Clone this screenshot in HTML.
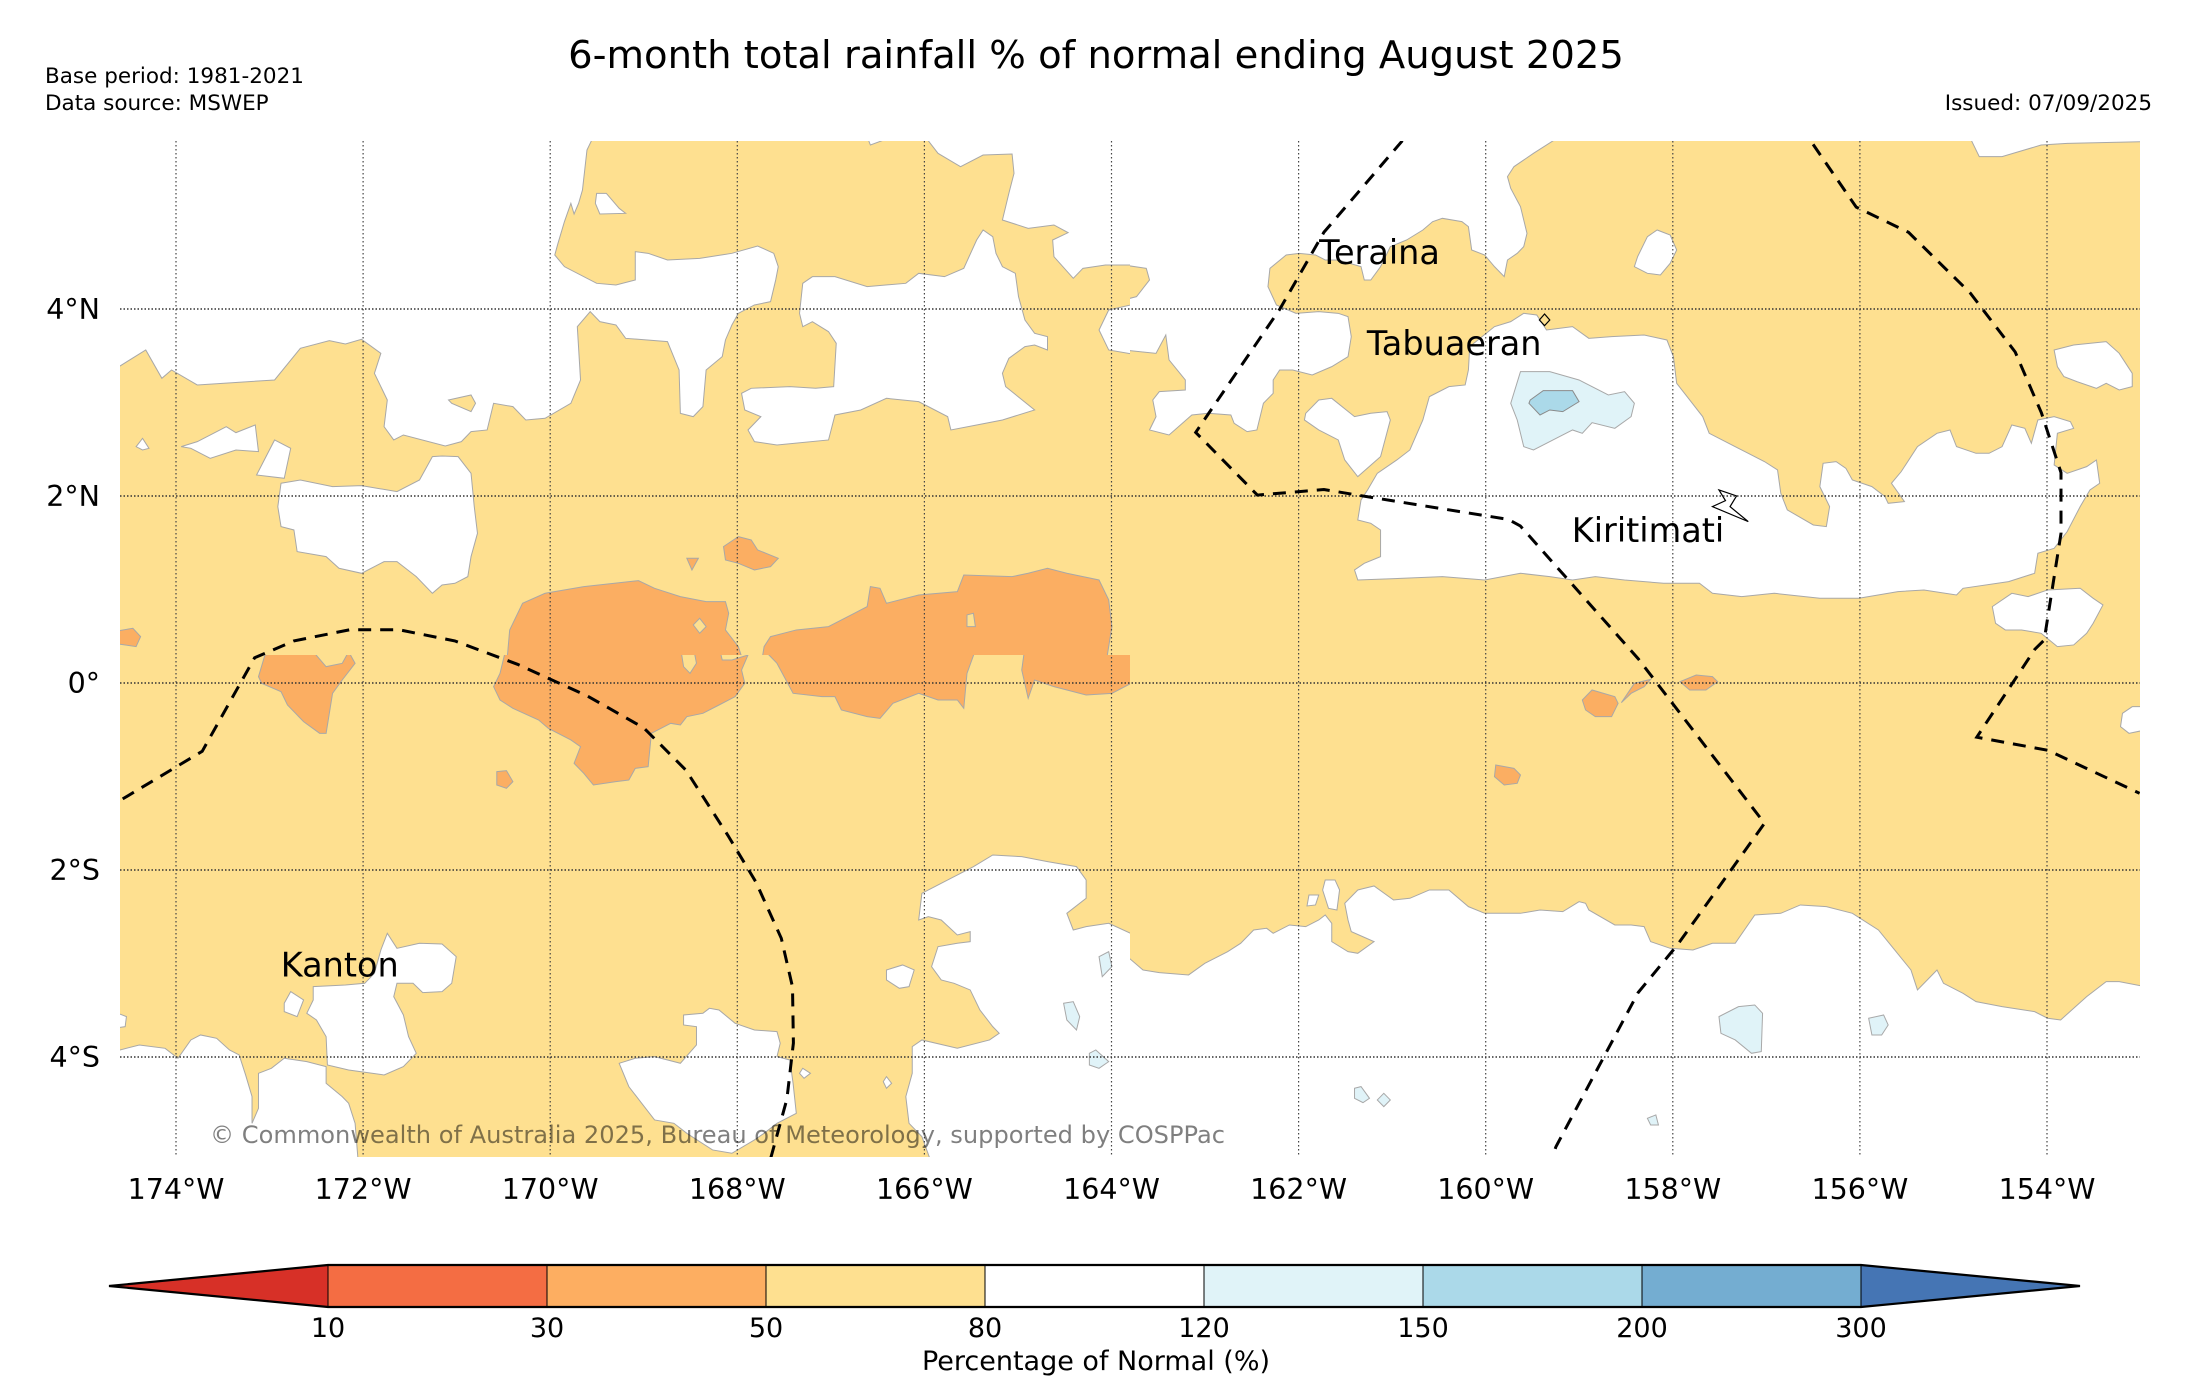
<!DOCTYPE html>
<html><head><meta charset="utf-8"><title>6-month rainfall % of normal</title>
<style>
html,body{margin:0;padding:0;background:#fff;}
svg{display:block;font-family:"DejaVu Sans","Liberation Sans",sans-serif;}
.w{fill:#ffffff;stroke:#a8a8a8;stroke-width:1;}
.y{fill:#fee090;stroke:#a8a8a8;stroke-width:1;}
.o{fill:#fbae62;stroke:#a8a8a8;stroke-width:1;}
.b1{fill:#e0f3f8;stroke:#a8a8a8;stroke-width:1;}
.b2{fill:#abd9e9;stroke:#8a8a8a;stroke-width:1;}
</style></head>
<body>
<svg id="chart" width="2185" height="1380" viewBox="0 0 2185 1380" xmlns="http://www.w3.org/2000/svg">
<defs>
<clipPath id="clipMap"><rect x="120" y="141" width="2020" height="1016"/></clipPath>
<clipPath id="clipA"><rect x="120" y="141" width="1010" height="514"/></clipPath>
<clipPath id="clipB"><rect x="1130" y="141" width="1010" height="514"/></clipPath>
<clipPath id="clipC"><rect x="120" y="655" width="1010" height="502"/></clipPath>
<clipPath id="clipD"><rect x="1130" y="655" width="1010" height="502"/></clipPath>
</defs>

<text x="1096" y="68" font-size="38.5" text-anchor="middle" fill="#000">6-month total rainfall % of normal ending August 2025</text>
<text x="45" y="83" font-size="21.5" fill="#000">Base period: 1981-2021</text>
<text x="45" y="110" font-size="21.5" fill="#000">Data source: MSWEP</text>
<text x="2152" y="110" font-size="21.5" text-anchor="end" fill="#000">Issued: 07/09/2025</text>

<g clip-path="url(#clipMap)">
<rect x="120" y="141" width="2020" height="1016" fill="#fee090"/>

<g clip-path="url(#clipA)">
<g transform="translate(120,140) scale(0.6441,0.3333)">
<polygon class="w" vector-effect="non-scaling-stroke" points="-10,-10 735,-10 725,30 718,150 712,190 705,222 700,190 690,245 680,310 675,345 690,380 740,430 770,435 800,420 800,335 820,340 850,360 900,355 950,340 990,318 1015,340 1022,380 1018,420 1010,485 985,495 960,520 950,555 940,600 935,650 910,690 905,800 890,830 870,820 868,690 850,605 785,595 770,555 745,545 730,515 710,560 715,720 700,790 660,835 630,840 610,800 580,790 570,870 545,875 530,905 505,918 440,885 425,900 410,860 415,780 395,700 405,640 375,598 350,612 325,602 280,625 240,720 120,735 80,690 65,715 40,630 -10,690"/>
<polygon class="w" vector-effect="non-scaling-stroke" points="740,160 755,160 775,205 785,220 745,222 738,190"/>
<polygon class="y" vector-effect="non-scaling-stroke" points="510,780 545,765 552,790 545,815 515,790"/>
<polygon class="w" vector-effect="non-scaling-stroke" points="1060,430 1075,410 1110,410 1160,440 1220,430 1240,400 1280,410 1310,385 1330,300 1340,270 1355,290 1360,340 1370,380 1390,400 1395,470 1405,540 1420,580 1440,590 1440,630 1420,615 1405,620 1380,655 1370,700 1375,740 1420,810 1370,840 1330,855 1290,870 1285,830 1240,785 1190,775 1150,810 1110,825 1100,900 1020,915 985,905 975,870 995,830 970,810 965,760 980,745 1040,740 1080,745 1108,740 1112,610 1100,575 1075,545 1060,560 1055,520"/>
<polygon class="w" vector-effect="non-scaling-stroke" points="1160,-10 1165,15 1200,-10 1250,-10 1270,40 1305,80 1340,45 1385,42 1388,100 1380,160 1370,240 1410,265 1450,255 1472,278 1448,300 1450,350 1480,415 1495,385 1530,375 1580,375 1580,-10"/>
<polygon class="w" vector-effect="non-scaling-stroke" points="1580,490 1535,510 1520,570 1535,630 1580,645"/>
<polygon class="w" vector-effect="non-scaling-stroke" points="95,920 120,905 165,860 180,878 210,855 215,935 180,930 140,955 110,925"/>
<polygon class="w" vector-effect="non-scaling-stroke" points="212,1005 240,900 265,925 255,1015"/>
<polygon class="w" vector-effect="non-scaling-stroke" points="25,920 35,895 45,925 35,930"/>
<polygon class="w" vector-effect="non-scaling-stroke" points="250,1030 280,1020 330,1040 375,1037 430,1055 465,1020 485,950 500,948 525,950 545,1000 550,1100 555,1180 545,1250 540,1310 520,1330 500,1335 485,1360 460,1310 430,1265 410,1265 375,1300 340,1285 320,1250 275,1235 270,1170 250,1160 245,1100"/>
<polygon class="o" vector-effect="non-scaling-stroke" points="660,1360 720,1340 805,1322 830,1345 870,1370 910,1385 940,1385 945,1420 940,1470 960,1520 970,1580 600,1580 605,1470 625,1390"/>
<polygon class="y" vector-effect="non-scaling-stroke" points="900,1435 910,1460 900,1480 890,1455"/>
<polygon class="o" vector-effect="non-scaling-stroke" points="1010,1490 1050,1470 1100,1460 1140,1420 1160,1400 1165,1340 1180,1345 1190,1390 1240,1365 1300,1355 1310,1305 1385,1310 1410,1300 1440,1285 1470,1300 1520,1320 1535,1380 1540,1460 1530,1580 995,1580 1000,1520"/>
<polygon class="y" vector-effect="non-scaling-stroke" points="1315,1425 1325,1420 1328,1460 1315,1460"/>
<polygon class="o" vector-effect="non-scaling-stroke" points="960,1190 980,1200 990,1230 1022,1255 1010,1280 985,1290 960,1270 940,1260 937,1220"/>
<polygon class="o" vector-effect="non-scaling-stroke" points="880,1255 898,1255 888,1290"/>
<polygon class="o" vector-effect="non-scaling-stroke" points="-10,1475 20,1465 32,1490 25,1520 -10,1510"/>
</g></g>

<g clip-path="url(#clipB)">
<g transform="translate(1130,140) scale(0.6508,0.3333)">
<polygon class="w" vector-effect="non-scaling-stroke" points="-10,-10 660,-10 620,40 590,80 580,110 585,145 600,200 610,280 605,320 595,340 580,360 575,410 560,380 545,345 525,330 520,260 510,245 480,235 465,245 450,270 425,300 400,320 385,380 370,420 360,420 355,380 320,360 300,360 285,345 260,340 240,345 215,385 212,440 225,495 255,520 290,515 320,520 335,530 340,590 335,650 310,680 280,705 250,690 230,690 220,720 220,760 205,790 195,870 180,875 160,850 155,825 120,820 95,825 60,885 30,870 40,830 35,780 45,755 85,750 85,720 60,660 55,585 40,640 -10,630"/>
<polygon class="y" vector-effect="non-scaling-stroke" points="-10,375 25,385 30,420 10,470 -10,480"/>
<polygon class="w" vector-effect="non-scaling-stroke" points="270,820 290,780 310,775 345,830 370,820 395,815 400,840 385,950 350,1010 330,960 320,900 290,870 268,840"/>
<polygon class="w" vector-effect="non-scaling-stroke" points="365,1050 380,1000 410,960 430,930 450,840 460,770 490,740 515,735 520,690 522,620 560,560 585,545 605,520 625,525 640,570 680,560 705,595 740,590 790,585 825,600 835,650 840,730 860,780 880,830 890,880 930,920 950,940 975,965 995,990 1000,1060 1010,1110 1050,1155 1070,1160 1075,1100 1060,1040 1065,970 1085,965 1100,985 1110,1020 1140,1040 1160,1070 1165,1090 1190,1085 1170,1030 1185,995 1210,920 1240,880 1260,870 1270,920 1300,940 1320,940 1340,920 1355,855 1375,865 1385,910 1395,840 1420,830 1445,845 1450,865 1425,880 1420,975 1440,1000 1470,980 1485,960 1490,1030 1475,1050 1460,1100 1440,1175 1420,1225 1395,1240 1390,1300 1350,1325 1280,1345 1270,1365 1220,1350 1180,1355 1120,1375 1060,1375 990,1360 940,1370 895,1360 875,1330 820,1330 760,1320 715,1310 680,1320 645,1310 600,1300 545,1320 480,1310 420,1315 350,1320 345,1290 360,1270 385,1250 385,1170 370,1150 350,1140 355,1080"/>
<polygon class="b1" vector-effect="non-scaling-stroke" points="600,695 645,695 690,720 735,765 760,755 775,790 770,830 745,865 710,848 695,880 680,870 650,900 620,930 605,920 595,840 585,790"/>
<polygon class="b2" vector-effect="non-scaling-stroke" points="615,780 635,752 680,752 690,785 665,815 645,810 630,825 613,790"/>
<polygon class="w" vector-effect="non-scaling-stroke" points="1290,-10 1305,50 1340,50 1400,15 1440,10 1560,5 1560,-10"/>
<polygon class="w" vector-effect="non-scaling-stroke" points="780,350 795,290 810,270 830,285 840,330 830,370 815,405 795,400 775,380"/>
<polygon class="w" vector-effect="non-scaling-stroke" points="1420,630 1450,615 1500,605 1520,640 1540,700 1540,740 1520,750 1500,730 1485,745 1455,725 1435,710 1425,680"/>
<polygon class="w" vector-effect="non-scaling-stroke" points="1325,1400 1355,1360 1380,1370 1410,1350 1460,1345 1480,1375 1495,1395 1480,1450 1470,1480 1450,1515 1425,1520 1400,1480 1370,1470 1345,1470 1330,1450"/>
<polygon fill="none" stroke="#000" stroke-width="1.2" vector-effect="non-scaling-stroke" points="637,522 645,540 637,557 629,540"/>
<polygon fill="#fff" stroke="#000" stroke-width="1.2" vector-effect="non-scaling-stroke" points="905,1050 932,1068 922,1100 950,1145 895,1100 915,1082"/>
</g></g>

<g clip-path="url(#clipC)">
<g transform="translate(120,650) scale(0.6441,0.3333)">
<polygon class="o" vector-effect="non-scaling-stroke" points="600,-10 930,-10 935,30 950,30 975,15 965,60 970,100 955,140 930,165 905,190 880,200 870,225 855,220 825,250 820,350 800,355 790,390 770,395 735,405 720,370 705,340 715,290 700,270 665,235 650,210 610,175 590,150 580,110 590,70"/>
<polygon class="y" vector-effect="non-scaling-stroke" points="870,-10 890,-10 895,40 885,70 875,50"/>
<polygon class="o" vector-effect="non-scaling-stroke" points="995,-10 1330,-10 1315,70 1310,175 1300,150 1270,150 1240,130 1200,160 1180,205 1160,200 1120,180 1110,140 1090,140 1045,130 1020,40"/>
<polygon class="o" vector-effect="non-scaling-stroke" points="1405,-10 1580,-10 1580,90 1540,130 1500,135 1450,110 1420,90 1410,145 1400,60"/>
<polygon class="o" vector-effect="non-scaling-stroke" points="225,15 245,10 290,-10 300,5 320,50 345,40 355,5 365,40 345,90 330,130 320,250 310,250 285,215 260,165 250,125 220,100 215,80"/>
<polygon class="o" vector-effect="non-scaling-stroke" points="585,365 600,362 610,395 600,415 585,405"/>
<polygon class="w" vector-effect="non-scaling-stroke" points="415,850 430,895 465,880 500,882 522,920 515,1000 500,1025 470,1028 455,1000 430,1000 425,1040 440,1095 448,1160 460,1210 440,1250 410,1275 355,1260 322,1245 320,1160 305,1110 290,1090 300,1050 300,1010 350,1005 380,1000 395,970 405,900"/>
<polygon class="w" vector-effect="non-scaling-stroke" points="255,1060 265,1025 285,1050 275,1100 255,1085"/>
<polygon class="w" vector-effect="non-scaling-stroke" points="-10,1205 30,1185 70,1195 90,1225 110,1170 125,1155 150,1165 170,1200 185,1215 195,1275 205,1340 205,1420 215,1375 215,1270 235,1255 255,1225 290,1235 320,1250 320,1300 345,1340 355,1360 365,1420 370,1540 -10,1540"/>
<polygon class="w" vector-effect="non-scaling-stroke" points="-10,1085 10,1100 8,1130 -10,1135"/>
<polygon class="w" vector-effect="non-scaling-stroke" points="775,1240 800,1225 830,1220 870,1240 895,1185 895,1130 875,1125 875,1095 905,1090 915,1075 930,1080 955,1120 985,1140 1020,1145 1025,1180 1020,1220 1040,1230 1045,1300 1050,1390 1020,1420 1000,1450 985,1470 950,1510 920,1500 880,1450 860,1420 830,1410 810,1360 790,1310"/>
<polygon class="w" vector-effect="non-scaling-stroke" points="1060,1255 1072,1270 1062,1285 1055,1270"/>
<polygon class="w" vector-effect="non-scaling-stroke" points="1190,1280 1198,1300 1190,1315 1185,1295"/>
<polygon class="w" vector-effect="non-scaling-stroke" points="1260,1540 1245,1460 1225,1420 1220,1340 1230,1270 1230,1190 1245,1170 1300,1195 1350,1170 1365,1150 1355,1130 1335,1080 1320,1020 1295,1000 1275,990 1260,950 1270,890 1300,880 1320,875 1320,845 1300,855 1275,810 1255,800 1240,810 1245,730 1290,685 1325,650 1355,615 1400,620 1440,635 1485,650 1500,690 1500,745 1470,790 1480,840 1500,830 1535,820 1580,860 1580,1540"/>
<polygon class="w" vector-effect="non-scaling-stroke" points="1190,960 1215,945 1233,960 1225,1010 1210,1015 1190,990"/>
<polygon class="b1" vector-effect="non-scaling-stroke" points="1520,920 1535,905 1540,950 1525,980"/>
<polygon class="b1" vector-effect="non-scaling-stroke" points="1465,1060 1480,1055 1490,1100 1485,1140 1470,1110"/>
<polygon class="b1" vector-effect="non-scaling-stroke" points="1505,1210 1515,1200 1535,1235 1520,1255 1505,1245"/>
</g></g>

<g clip-path="url(#clipD)">
<g transform="translate(1130,650) scale(0.6508,0.3333)">
<polygon class="w" vector-effect="non-scaling-stroke" points="-10,910 20,960 45,968 90,975 115,940 150,905 170,880 190,840 210,835 220,850 245,825 270,830 290,810 300,795 310,820 310,875 335,905 350,910 375,875 340,845 335,810 330,760 350,720 375,708 405,750 430,745 460,720 490,720 520,770 545,790 600,790 630,780 665,785 690,755 700,760 705,780 745,825 770,825 790,830 800,875 830,895 865,900 895,880 930,880 960,795 1000,790 1030,765 1070,770 1110,790 1150,840 1175,900 1200,960 1210,1020 1225,990 1240,960 1250,1000 1280,1030 1300,1055 1340,1070 1390,1085 1410,1105 1430,1110 1470,1040 1500,995 1520,995 1560,1010 1560,1540 -10,1540"/>
<polygon class="w" vector-effect="non-scaling-stroke" points="275,735 290,735 285,765 272,768"/>
<polygon class="w" vector-effect="non-scaling-stroke" points="300,690 315,690 322,720 318,780 305,775 296,720"/>
<polygon class="w" vector-effect="non-scaling-stroke" points="1540,170 1560,170 1560,240 1535,250 1522,230 1525,190"/>
<polygon class="b1" vector-effect="non-scaling-stroke" points="905,1100 935,1070 960,1065 972,1090 970,1205 955,1210 930,1170 908,1150"/>
<polygon class="b1" vector-effect="non-scaling-stroke" points="1135,1105 1158,1095 1165,1125 1155,1155 1140,1155"/>
<polygon class="b1" vector-effect="non-scaling-stroke" points="345,1315 355,1310 368,1345 358,1358 345,1345"/>
<polygon class="b1" vector-effect="non-scaling-stroke" points="380,1350 390,1330 400,1350 390,1370"/>
<polygon class="b1" vector-effect="non-scaling-stroke" points="795,1405 808,1395 812,1425 800,1425"/>
<polygon class="o" vector-effect="non-scaling-stroke" points="695,150 710,120 745,140 750,160 740,200 715,200 700,180"/>
<polygon class="o" vector-effect="non-scaling-stroke" points="755,158 775,100 800,88 790,110 770,130"/>
<polygon class="o" vector-effect="non-scaling-stroke" points="845,95 870,75 895,80 903,95 885,120 860,120"/>
<polygon class="o" vector-effect="non-scaling-stroke" points="562,345 590,355 600,375 595,400 575,405 560,380"/>
</g></g>

<g id="grid"></g>
<g id="eez"></g>
<g id="places"></g>
<text x="210" y="1143" font-size="24" fill="#000" fill-opacity="0.5" textLength="1015" lengthAdjust="spacingAndGlyphs">© Commonwealth of Australia 2025, Bureau of Meteorology, supported by COSPPac</text>
</g>

<g id="axes"></g>
<g id="colorbar"></g>
<text x="1096" y="1370" font-size="27" text-anchor="middle" fill="#000">Percentage of Normal (%)</text>
</svg>

<script>
const lonTicks = [-174, -172, -170, -168, -166, -164, -162, -160, -158, -156, -154];
const latTicks = [4, 2, 0, -2, -4];
const cbBounds = [10, 30, 50, 80, 120, 150, 200, 300];
const cbColors = ['#f46d43', '#fdae61', '#fee090', '#ffffff', '#e0f3f8', '#abd9e9', '#74add1'];
const cbLowColor = '#d73027';
const cbHighColor = '#4575b4';
const kantonLon = [-174.57, -173.72, -173.16, -172.74, -172.14, -171.62, -171.02, -170.35, -169.60, -169.00, -168.55, -168.10, -167.80, -167.53, -167.41, -167.40, -167.47, -167.65];
const kantonLat = [-1.24, -0.73, 0.27, 0.45, 0.57, 0.57, 0.45, 0.20, -0.14, -0.48, -0.93, -1.63, -2.13, -2.73, -3.25, -3.85, -4.45, -5.11];
const lineIsLon = [-160.89, -161.73, -162.20, -163.10, -162.44, -161.73, -161.37, -159.76, -159.63, -158.37, -157.02, -157.95, -158.37, -159.25, -159.30];
const lineIsLat = [5.80, 4.82, 4.00, 2.68, 2.01, 2.07, 2.01, 1.75, 1.68, 0.26, -1.50, -2.80, -3.31, -4.96, -5.11];
const eastLon = [-156.50, -156.04, -155.48, -154.82, -154.34, -154.06, -153.85, -153.85, -154.03, -154.13, -154.75, -153.99, -153.01];
const eastLat = [5.76, 5.09, 4.82, 4.17, 3.54, 2.89, 2.25, 1.60, 0.46, 0.36, -0.58, -0.72, -1.18];
const placeNames = ['Kanton', 'Teraina', 'Tabuaeran', 'Kiritimati'];
const placeLon = [-172.88, -161.78, -161.27, -159.08];
const placeLat = [-3.14, 4.48, 3.51, 1.51];

const NS = 'http://www.w3.org/2000/svg';
function xOf(lon) { return 176 + (lon + 174) * 93.55; }
function yOf(lat) { return 683 - lat * 93.5; }
function cbX(i) { return 328 + i * 219; }
function mk(tag, attrs, parent) {
  const el = document.createElementNS(NS, tag);
  for (const k in attrs) el.setAttribute(k, attrs[k]);
  parent.appendChild(el);
  return el;
}
const grid = document.getElementById('grid');
lonTicks.forEach(function (lon) {
  const l = mk('line', {x1: xOf(lon), x2: xOf(lon), y1: 141, y2: 1157, stroke: '#444', 'stroke-width': 1.2, 'stroke-dasharray': '1.5,2.5'}, grid);
  
  
});
latTicks.forEach(function (lat) {
  const l = mk('line', {x1: 120, x2: 2140, y1: yOf(lat), y2: yOf(lat), stroke: '#333', 'stroke-width': 1.4, 'stroke-dasharray': '1.5,2'}, grid);
  
  
});
const eez = document.getElementById('eez');
[[kantonLon, kantonLat], [lineIsLon, lineIsLat], [eastLon, eastLat]].forEach(function (pair) {
  const pts = pair[0].map(function (lon, i) { return xOf(lon).toFixed(1) + ',' + yOf(pair[1][i]).toFixed(1); }).join(' ');
  const p = mk('polyline', {points: pts, fill: 'none', stroke: '#000', 'stroke-width': 3, 'stroke-dasharray': '13,9'}, eez);
  
  
});
const places = document.getElementById('places');
placeNames.forEach(function (n, i) {
  const t = mk('text', {x: xOf(placeLon[i]), y: yOf(placeLat[i]), 'font-size': 33.5, fill: '#000'}, places);
  t.textContent = n;
  
  
});
const axes = document.getElementById('axes');
lonTicks.forEach(function (lon) {
  const t = mk('text', {x: xOf(lon), y: 1199, 'font-size': 28.5, 'text-anchor': 'middle', fill: '#000'}, axes);
  t.textContent = Math.abs(lon) + '°W';
  
  
});
latTicks.forEach(function (lat) {
  const t = mk('text', {x: 100, y: yOf(lat) + 10, 'font-size': 28.5, 'text-anchor': 'end', fill: '#000'}, axes);
  t.textContent = lat === 0 ? '0°' : Math.abs(lat) + '°' + (lat > 0 ? 'N' : 'S');
  
  
});
const cb = document.getElementById('colorbar');
const cbTop = 1265, cbBot = 1307, cbMid = 1286;
const lowTri = mk('polygon', {points: cbX(0) + ',' + cbTop + ' 109,' + cbMid + ' ' + cbX(0) + ',' + cbBot, fill: cbLowColor}, cb);


const cbLast = cbBounds.length - 1;
const hiTri = mk('polygon', {points: cbX(cbLast) + ',' + cbTop + ' 2080,' + cbMid + ' ' + cbX(cbLast) + ',' + cbBot, fill: cbHighColor}, cb);


cbColors.forEach(function (c, i) {
  const r = mk('rect', {x: cbX(i), y: cbTop, width: cbX(i + 1) - cbX(i), height: cbBot - cbTop, fill: c, stroke: '#000', 'stroke-width': 1}, cb);
  
  
});
const cbOutline = mk('polygon', {points: '109,' + cbMid + ' ' + cbX(0) + ',' + cbTop + ' ' + cbX(cbLast) + ',' + cbTop + ' 2080,' + cbMid + ' ' + cbX(cbLast) + ',' + cbBot + ' ' + cbX(0) + ',' + cbBot, fill: 'none', stroke: '#000', 'stroke-width': 2.2}, cb);


cbBounds.forEach(function (b, i) {
  const t = mk('text', {x: cbX(i), y: 1337, 'font-size': 27, 'text-anchor': 'middle', fill: '#000'}, cb);
  t.textContent = b;
  
  
});
</script>
</body></html>
